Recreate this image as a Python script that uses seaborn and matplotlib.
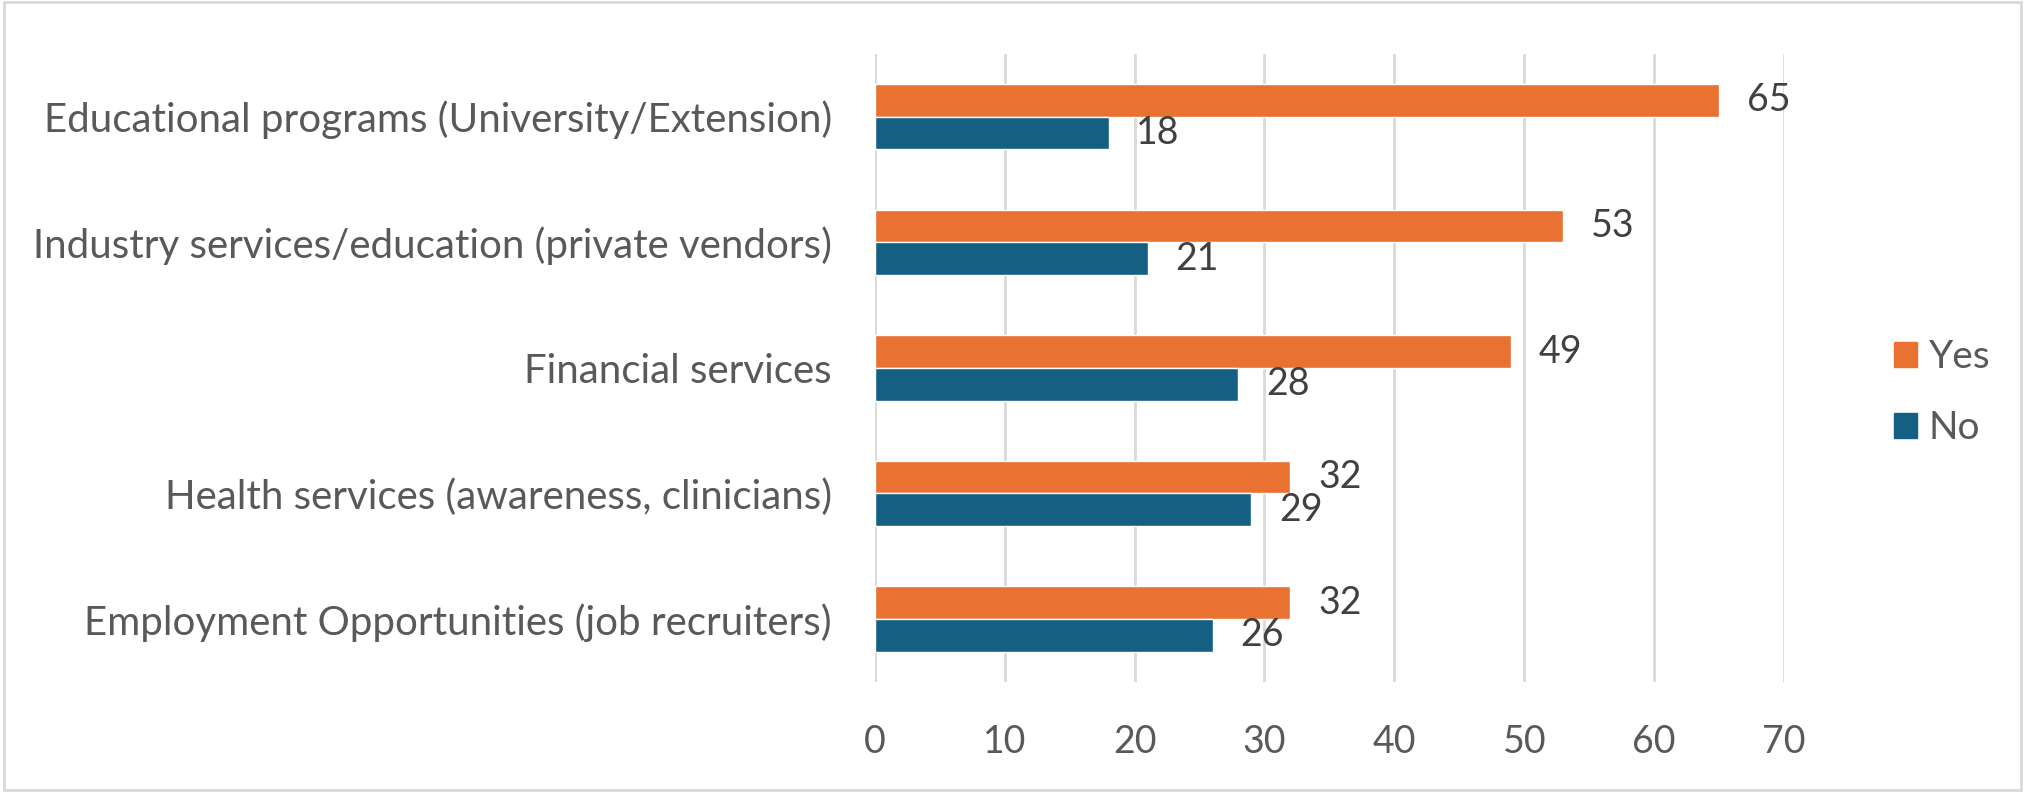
import pandas as pd
import matplotlib
matplotlib.use('Agg')
import matplotlib.pyplot as plt
from matplotlib.patches import Patch
import seaborn as sns

# ── DATA ────────────────────────────────────────────────────
categories = [
    'Educational programs (University/Extension)',
    'Industry services/education (private vendors)',
    'Financial services',
    'Health services (awareness, clinicians)',
    'Employment Opportunities (job recruiters)',
]
yes_vals = [65, 53, 49, 32, 32]
no_vals = [18, 21, 28, 29, 26]
series = ['Yes', 'No']
x_ticks = [0, 10, 20, 30, 40, 50, 60, 70]

df = pd.DataFrame({
    'Category': categories * 2,
    'Answer': ['Yes'] * len(categories) + ['No'] * len(categories),
    'Count': yes_vals + no_vals,
})

# ── STYLE ───────────────────────────────────────────────────
sns.set_style('white')
plt.rcParams['font.family'] = ['Lato', 'DejaVu Sans']
ORANGE = '#E97132'
BLUE = '#156082'
GRID = '#D9D9D9'
TXT = '#595959'

fig = plt.figure(figsize=(20.25, 7.92), dpi=100)
ax = fig.add_axes([0.432, 0.139, 0.449, 0.793])

sns.barplot(data=df, y='Category', x='Count', hue='Answer',
            hue_order=series, order=categories, orient='h',
            palette=[ORANGE, BLUE], width=0.52, saturation=1,
            ax=ax, legend=False)

for cont in ax.containers:
    ax.bar_label(cont, fmt='%d', padding=20, fontsize=27, color='#404040')

ax.set_xlim(0, 70)
ax.set_ylim(4.5, -0.5)
ax.set_xticks(x_ticks)
ax.grid(axis='x', color=GRID, linewidth=2)
ax.set_axisbelow(True)
for s in ax.spines.values():
    s.set_visible(False)
ax.tick_params(axis='x', length=0, labelsize=27, labelcolor=TXT, pad=30)
ax.tick_params(axis='y', length=0, labelsize=29, labelcolor=TXT, pad=31)
ax.set_xlabel('')
ax.set_ylabel('')

# ── LEGEND ──────────────────────────────────────────────────
handles = [Patch(color=ORANGE), Patch(color=BLUE)]
fig.legend(handles, series, loc='center left', bbox_to_anchor=(0.918, 0.504),
           frameon=False, fontsize=28, labelcolor=TXT,
           handlelength=0.6, handleheight=0.6, handletextpad=0.3,
           labelspacing=0.9)

# outer border
fig.patches.append(plt.Rectangle((0.002, 0.003), 0.996, 0.994,
                                 transform=fig.transFigure, fill=False,
                                 edgecolor=GRID, linewidth=2))

plt.savefig('out.png', dpi=100)
plt.close()
